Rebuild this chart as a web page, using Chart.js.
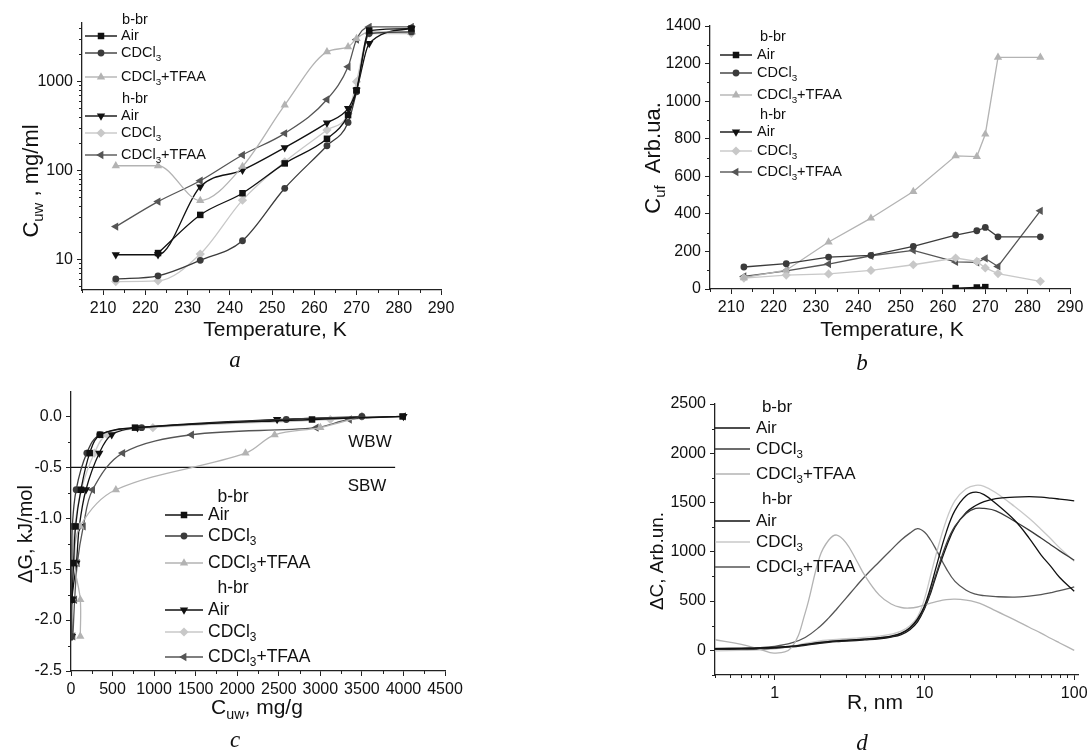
<!DOCTYPE html>
<html>
<head>
<meta charset="utf-8">
<title>Unfrozen water vs temperature</title>
<script src="https://cdn.jsdelivr.net/npm/chart.js"></script>
<style>
  html, body { margin: 0; padding: 0; background: #fff; }
  body { width: 1089px; height: 754px; position: relative; overflow: hidden; }
  .box { position: absolute; }
  .lbl { position: absolute; width: 40px; text-align: center; font: italic 23px "Liberation Serif", "DejaVu Serif", serif; color: #111; line-height: 28px; }
</style>
</head>
<body>
<div class="box" style="left:0;top:0;width:545px;height:377px"><canvas id="chA"></canvas></div>
<div class="box" style="left:545px;top:0;width:544px;height:377px"><canvas id="chB"></canvas></div>
<div class="box" style="left:0;top:377px;width:545px;height:377px"><canvas id="chC"></canvas></div>
<div class="box" style="left:545px;top:377px;width:544px;height:377px"><canvas id="chD"></canvas></div>
<div class="lbl" style="left:215px;top:346px">a</div>
<div class="lbl" style="left:842px;top:349px">b</div>
<div class="lbl" style="left:215px;top:726px">c</div>
<div class="lbl" style="left:842px;top:729px">d</div>
<script>
// ---------- data ----------
// a: C_uw (mg/ml) vs temperature
const tempA = [213, 223, 233, 243, 253, 263, 268, 270, 273, 283];
const aBAir  = [null, 11.7, 31.4, 55, 119, 225, 415, 790, 3700, 3900];
const aBCdcl = [6.0, 6.5, 9.7, 16.1, 62.5, 188, 344, 760, 3430, 3570];
const aBTfaa = [112, 112, 45.5, 110, 538, 2130, 2430, 3010, 3570, 3520];
const aHAir  = [11.2, 11.2, 65, 100, 179, 340, 493, 790, 2650, 3900];
const aHCdcl = [5.6, 5.7, 11.4, 46, 124, 282, 434, 985, 3430, 3430];
const aHTfaa = [23.2, 44.3, 76, 148, 259, 622, 1450, 2930, 4070, 4070];

// b: C_uf (arb. units) vs temperature
const tempB = [213, 223, 233, 243, 253, 263, 268, 270, 273, 283];
const bBAir  = [null, null, null, null, null, 5, 8, 10, null, null];
const bBCdcl = [117, 135, 170, 179, 227, 287, 310, 328, 278, 278];
const bBTfaa = [60, 100, 250, 377, 519, 709, 705, 824, 1233, 1233];
const bHAir  = [];
const bHCdcl = [58, 74, 80, 99, 129, 165, 147, 112, 82, 41];
const bHTfaa = [67, 97, 133, 177, 206, 144, 142, 163, 120, 416];

// c: dG (kJ/mol) vs C_uw (mg/g)
const dG = [-2.16, -1.80, -1.44, -1.08, -0.72, -0.36, -0.18, -0.11, -0.03, 0];
const cBAir  = [null, 12, 31, 55, 120, 225, 350, 770, 2900, 3990];
const cBCdcl = [6, 6.5, 10, 16, 62, 190, 345, 850, 2590, 3500];
const cBTfaa = [112, 112, 45, 110, 540, 2100, 2450, 3000, null, 3500];
const cHAir  = [11, 11, 65, 100, 180, 340, 490, 800, 2480, 4000];
const cHCdcl = [5.6, 5.7, 11.4, 46, 124, 282, 434, 985, 3120, 3500];
const cHTfaa = [23, 44, 76, 148, 260, 622, 1450, 2950, 3350, 4000];
const bwLimitX = [0, 3900];
const bwLimitY = -0.5;

// d: dC (arb. units) vs R (nm)
const rD = [0.4, 0.6, 0.8, 1, 1.3, 1.6, 2, 2.3, 2.6, 3, 3.5, 4, 5, 6, 7, 8, 9, 10, 11, 12, 14, 16, 19, 22, 25, 30, 40, 50, 60, 70, 80, 100];
const dBAir  = [18, 20, 24, 30, 42, 60, 80, 90, 97, 102, 108, 115, 128, 145, 175, 230, 320, 450, 640, 850, 1200, 1420, 1570, 1605, 1580, 1490, 1320, 1140, 970, 850, 740, 600];
const dBCdcl = [15, 18, 22, 28, 40, 58, 78, 88, 95, 100, 107, 113, 125, 142, 170, 225, 310, 430, 600, 780, 1080, 1260, 1390, 1440, 1440, 1415, 1310, 1220, 1140, 1070, 1010, 915];
const dBTfaa = [108, 60, 10, -28, 30, 380, 950, 1120, 1170, 1090, 920, 760, 560, 470, 435, 430, 440, 460, 480, 495, 515, 520, 510, 490, 460, 400, 310, 235, 175, 120, 75, 0];
const dHAir  = [10, 12, 15, 22, 35, 52, 72, 82, 88, 93, 100, 106, 118, 135, 160, 210, 290, 420, 580, 760, 1050, 1250, 1400, 1470, 1510, 1540, 1555, 1560, 1555, 1545, 1535, 1518];
const dHCdcl = [-5, 0, 5, 15, 40, 70, 95, 105, 112, 118, 125, 132, 145, 165, 195, 250, 340, 520, 760, 980, 1320, 1520, 1640, 1675, 1665, 1600, 1460, 1340, 1230, 1130, 1040, 905];
const dHTfaa = [20, 22, 28, 40, 75, 130, 240, 330, 420, 530, 650, 750, 900, 1020, 1120, 1190, 1235, 1200, 1120, 1020, 830, 700, 610, 570, 555, 545, 540, 550, 565, 585, 605, 645];

// tick labels
const ticksTemp = [210, 220, 230, 240, 250, 260, 270, 280, 290];
const minorTemp = [205, 215, 225, 235, 245, 255, 265, 275, 285];
const ticksLogA = [10, 100, 1000];
const minorLogA = [5, 6, 7, 8, 9, 20, 30, 40, 50, 60, 70, 80, 90, 200, 300, 400, 500, 600, 700, 800, 900, 2000, 3000, 4000];
const ticksCuf = [0, 200, 400, 600, 800, 1000, 1200, 1400];
const minorCuf = [100, 300, 500, 700, 900, 1100, 1300];
const ticksCuw = [0, 500, 1000, 1500, 2000, 2500, 3000, 3500, 4000, 4500];
const minorCuw = [250, 750, 1250, 1750, 2250, 2750, 3250, 3750, 4250];
const ticksDG = [-2.5, -2.0, -1.5, -1.0, -0.5, 0.0];
const minorDG = [-2.25, -1.75, -1.25, -0.75, -0.25];
const ticksR = [1, 10, 100];
const minorR = [0.4, 0.5, 0.6, 0.7, 0.8, 0.9, 2, 3, 4, 5, 6, 7, 8, 9, 20, 30, 40, 50, 60, 70, 80, 90];
const ticksDC = [0, 500, 1000, 1500, 2000, 2500];
const minorDC = [-250, 250, 750, 1250, 1750, 2250];

const seriesNames = [
    ["Air"], ["CDCl", ["3", "sub"]], ["CDCl", ["3", "sub"], "+TFAA"],
    ["Air"], ["CDCl", ["3", "sub"]], ["CDCl", ["3", "sub"], "+TFAA"],
];

// ---------- styles ----------
const FONT = '"Liberation Sans", Arial, sans-serif';
const looks = [
    { color: "#111111", point: "rect", rot: 0, r: 4.6 },
    { color: "#3b3b3b", point: "circle", rot: 0, r: 3.4 },
    { color: "#b3b3b3", point: "triangle", rot: 0, r: 4.8 },
    { color: "#111111", point: "triangle", rot: 180, r: 4.8 },
    { color: "#c8c8c8", point: "rectRot", rot: 0, r: 4.6 },
    { color: "#555555", point: "triangle", rot: 270, r: 4.8 },
];

Chart.defaults.font.family = FONT;
Chart.defaults.font.size = 16;
Chart.defaults.color = "#111";
Chart.defaults.animation = false;

function richText(ctx, segs, x, y, size, rotate, align){
    let parts = segs.map((sg) => {
        let t = (typeof sg === "string") ? sg : sg[0];
        let sub = (typeof sg !== "string") && sg[1] === "sub";
        let s = sub ? size * 0.68 : size;
        ctx.font = `${s}px ${FONT}`;
        return { t: t, s: s, dy: sub ? size * 0.33 : 0, w: ctx.measureText(t).width };
    });
    let total = parts.reduce((a, p) => a + p.w, 0);
    ctx.save();
    ctx.translate(x, y);
    if(rotate){ ctx.rotate(-Math.PI / 2); }
    let cx = (align === "left") ? 0 : -total / 2;
    ctx.textBaseline = "middle";
    ctx.textAlign = "left";
    ctx.fillStyle = "#111";
    parts.forEach((p) => {
        ctx.font = `${p.s}px ${FONT}`;
        ctx.fillText(p.t, cx, p.dy);
        cx += p.w;
    });
    ctx.restore();
}

function drawMarker(ctx, lk, x, y){
    let r = lk.r;
    ctx.save();
    ctx.translate(x, y);
    ctx.rotate(lk.rot * Math.PI / 180);
    ctx.fillStyle = lk.color;
    ctx.beginPath();
    if(lk.point === "rect"){
        let s = r * Math.SQRT1_2;
        ctx.rect(-s, -s, 2 * s, 2 * s);
    } else if(lk.point === "circle"){
        ctx.arc(0, 0, r, 0, Math.PI * 2);
    } else if(lk.point === "rectRot"){
        ctx.moveTo(0, -r); ctx.lineTo(r, 0); ctx.lineTo(0, r); ctx.lineTo(-r, 0);
    } else {
        ctx.moveTo(0, -r);
        ctx.lineTo(r * Math.sin(Math.PI * 2 / 3), -r * Math.cos(Math.PI * 2 / 3));
        ctx.lineTo(r * Math.sin(Math.PI * 4 / 3), -r * Math.cos(Math.PI * 4 / 3));
    }
    ctx.closePath();
    ctx.fill();
    ctx.restore();
}

// legend, axis titles, extra texts and minor ticks
function decor(cfg){
    return {
        id: "decor",
        afterDraw(chart){
            let ctx = chart.ctx;
            // minor ticks
            ctx.save();
            ctx.strokeStyle = "#222";
            ctx.lineWidth = 1;
            let sx = chart.scales.x, sy = chart.scales.y;
            cfg.minorX.forEach((v) => {
                let px = Math.round(sx.getPixelForValue(v)) + 0.5;
                ctx.beginPath(); ctx.moveTo(px, sx.top); ctx.lineTo(px, sx.top + 3); ctx.stroke();
            });
            cfg.minorY.forEach((v) => {
                let py = Math.round(sy.getPixelForValue(v)) + 0.5;
                ctx.beginPath(); ctx.moveTo(sy.right - 3, py); ctx.lineTo(sy.right, py); ctx.stroke();
            });
            ctx.restore();

            // axis titles
            richText(ctx, cfg.yTitle, cfg.yPos[0], cfg.yPos[1], cfg.yTitleSize, true);
            richText(ctx, cfg.xTitle, cfg.xPos[0], cfg.xPos[1], cfg.xTitleSize, false);
            (cfg.texts || []).forEach((t) => { richText(ctx, [t.text], t.x, t.y, t.size, false); });

            // legend
            let lg = cfg.legend;
            let rows = ["b-br", 0, 1, 2, "h-br", 3, 4, 5];
            rows.forEach((row, i) => {
                let y = lg.rows[i];
                if(typeof row === "string"){
                    richText(ctx, [row], lg.hx, y, lg.font, false);
                    return;
                }
                let lk = looks[row];
                ctx.save();
                ctx.strokeStyle = lk.color;
                ctx.lineWidth = 1.4;
                ctx.beginPath(); ctx.moveTo(lg.x1, y); ctx.lineTo(lg.x2, y); ctx.stroke();
                ctx.restore();
                if(lg.markers){ drawMarker(ctx, lk, (lg.x1 + lg.x2) / 2, y); }
                richText(ctx, seriesNames[row], lg.tx, y, lg.font, false, "left");
            });
        },
    };
}

function axis(type, min, max, ticks, fmt, fit){
    return {
        type: type,
        min: min,
        max: max,
        afterBuildTicks: (s) => { s.ticks = ticks.map((v) => ({ value: v })); },
        afterFit: fit,
        grid: { drawOnChartArea: false, drawTicks: true, tickLength: 5, color: "#222", lineWidth: 1 },
        border: { display: true, color: "#222", width: 1.3 },
        ticks: { padding: 4, autoSkip: false, maxRotation: 0, callback: fmt, color: "#111", font: { size: 16 } },
    };
}
const fitX = (h) => (s) => { s.height = h; s.paddingLeft = 0; s.paddingRight = 0; };
const fitY = (w) => (s) => { s.width = w; s.paddingTop = 0; s.paddingBottom = 0; };

function pointSet(i, xs, ys, opts){
    let lk = looks[i];
    let data = [];
    for(let k = 0; k < xs.length; k++){
        if(xs[k] === null || ys[k] === null || ys[k] === undefined || xs[k] === undefined){
            if(opts.gaps){ data.push({ x: xs[k], y: null }); }
            continue;
        }
        data.push({ x: xs[k], y: ys[k] });
    }
    return {
        data: data,
        showLine: true,
        borderColor: lk.color,
        backgroundColor: lk.color,
        borderWidth: 1.3,
        pointStyle: opts.markers ? lk.point : false,
        pointRotation: lk.rot,
        pointRadius: opts.markers ? lk.r : 0,
        pointBorderWidth: 0,
        tension: opts.tension,
        cubicInterpolationMode: opts.mode || "default",
        spanGaps: false,
    };
}

function makeChart(id, datasets, scales, padding, cfg){
    return new Chart(document.getElementById(id), {
        type: "scatter",
        data: { datasets: datasets },
        options: {
            responsive: true,
            maintainAspectRatio: false,
            devicePixelRatio: 1,
            layout: { padding: padding },
            scales: scales,
            plugins: { legend: { display: false }, tooltip: { enabled: false } },
        },
        plugins: [decor(cfg)],
    });
}

// ---------- panel a ----------
let setsA = [aBAir, aBCdcl, aBTfaa, aHAir, aHCdcl, aHTfaa].map((ys, i) => pointSet(i, tempA, ys, { markers: true, tension: 0.4, mode: "monotone" }));
makeChart("chA", setsA, {
    x: axis("linear", 205, 290, ticksTemp, (v) => String(v), fitX(87)),
    y: axis("logarithmic", 4.5, 4500, ticksLogA, (v) => String(v), fitY(82)),
}, { top: 23, right: 104, left: 0, bottom: 0 }, {
    minorX: minorTemp, minorY: minorLogA,
    yTitle: ["C", ["uw", "sub"], " , mg/ml"], yPos: [32, 181], yTitleSize: 22,
    xTitle: ["Temperature, K"], xPos: [275, 330], xTitleSize: 21,
    legend: { x1: 85, x2: 117, tx: 121, hx: 135, rows: [20, 36, 53, 77, 99, 116, 133, 155], font: 14.5, markers: true },
});

// ---------- panel b ----------
let setsB = [bBAir, bBCdcl, bBTfaa, bHAir, bHCdcl, bHTfaa].map((ys, i) => pointSet(i, tempB, tempB.map((t, k) => (ys[k] === undefined ? null : ys[k])), { markers: true, tension: 0, gaps: true }));
makeChart("chB", setsB, {
    x: axis("linear", 205, 290, ticksTemp, (v) => String(v), fitX(88)),
    y: axis("linear", 0, 1400, ticksCuf, (v) => String(v), fitY(165)),
}, { top: 26, right: 19, left: 0, bottom: 0 }, {
    minorX: minorTemp, minorY: minorCuf,
    yTitle: ["C", ["uf", "sub"], "  Arb.ua."], yPos: [109, 158], yTitleSize: 22,
    xTitle: ["Temperature, K"], xPos: [347, 330], xTitleSize: 21,
    legend: { x1: 175, x2: 207, tx: 212, hx: 228, rows: [37, 55, 73, 95, 115, 132, 151, 172], font: 14.5, markers: true },
});

// ---------- panel c ----------
let setsC = [cBAir, cBCdcl, cBTfaa, cHAir, cHCdcl, cHTfaa].map((xs, i) => pointSet(i, xs, dG, { markers: true, tension: 0.35 }));
setsC.push({
    data: bwLimitX.map((x) => ({ x: x, y: bwLimitY })),
    showLine: true, borderColor: "#111", borderWidth: 1.2, pointRadius: 0, tension: 0,
});
makeChart("chC", setsC, {
    x: axis("linear", 0, 4500, ticksCuw, (v) => String(v), fitX(83)),
    y: axis("linear", -2.5, 0.24, ticksDG, (v) => v.toFixed(1), fitY(71)),
}, { top: 15, right: 100, left: 0, bottom: 0 }, {
    minorX: minorCuw, minorY: minorDG,
    yTitle: ["\u0394G, kJ/mol"], yPos: [26, 157], yTitleSize: 20,
    xTitle: ["C", ["uw", "sub"], ", mg/g"], xPos: [257, 331], xTitleSize: 21,
    texts: [{ text: "WBW", x: 370, y: 65, size: 17 }, { text: "SBW", x: 367, y: 109, size: 17 }],
    legend: { x1: 165, x2: 203, tx: 208, hx: 233, rows: [120, 138, 159, 186, 211, 233, 255, 280], font: 17.5, markers: true },
});

// ---------- panel d ----------
let setsD = [dBAir, dBCdcl, dBTfaa, dHAir, dHCdcl, dHTfaa].map((ys, i) => pointSet(i, rD, ys, { markers: false, tension: 0.4 }));
makeChart("chD", setsD, {
    x: axis("logarithmic", 0.4, 106, ticksR, (v) => String(v), fitX(79)),
    y: axis("linear", -250, 2500, ticksDC, (v) => String(v), fitY(170)),
}, { top: 27, right: 11, left: 0, bottom: 0 }, {
    minorX: minorR, minorY: minorDC,
    yTitle: ["\u0394C, Arb.un."], yPos: [113, 184], yTitleSize: 19,
    xTitle: ["R, nm"], xPos: [330, 326], xTitleSize: 21,
    legend: { x1: 170, x2: 205, tx: 211, hx: 232, rows: [30, 51, 72, 97, 122, 144, 165, 190], font: 17, markers: false },
});
</script>
</body>
</html>
